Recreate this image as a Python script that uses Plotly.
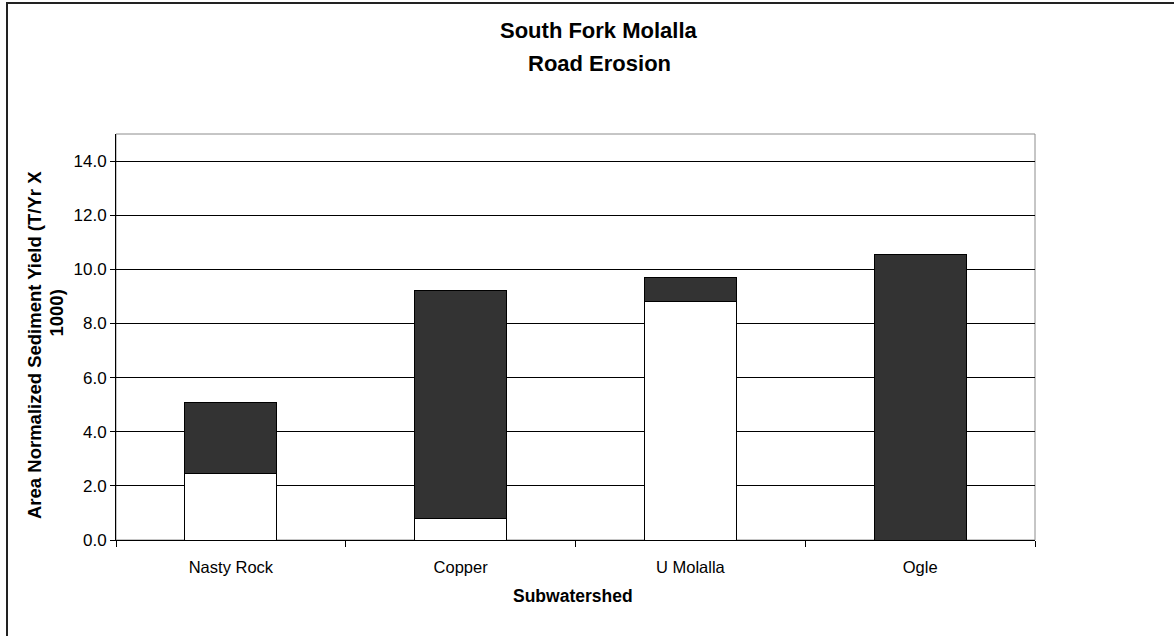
import plotly.graph_objects as go

categories = ["Nasty Rock", "Copper", "U Molalla", "Ogle"]
lower_values = [2.47, 0.78, 8.83, 0.0]
upper_values = [2.61, 8.43, 0.86, 10.54]
y_ticks = [0, 2, 4, 6, 8, 10, 12, 14]
title_lines = ["South Fork Molalla", "Road Erosion"]
y_title_lines = ["Area Normalized Sediment Yield (T/Yr X", "1000)"]
x_title = "Subwatershed"

FONT = "Liberation Sans, Arial, sans-serif"
W, H = 1174, 636
L, R, T, B = 116, 139, 134, 96
pw, ph = W - L - R, H - T - B

def px(x):
    return (x - L) / pw

def py(y):
    return (H - B - y) / ph

fig = go.Figure()
fig.add_trace(go.Bar(x=categories, y=lower_values, name="Series1", width=0.4,
                     marker=dict(color="#ffffff", line=dict(color="#000000", width=1))))
fig.add_trace(go.Bar(x=categories, y=upper_values, name="Series2", width=0.4,
                     marker=dict(color="#333333", line=dict(color="#000000", width=1))))

fig.update_layout(
    width=W, height=H,
    barmode="stack",
    showlegend=False,
    paper_bgcolor="#ffffff",
    plot_bgcolor="#ffffff",
    margin=dict(l=L, r=R, t=T, b=B, pad=0),
    font=dict(family=FONT, size=16, color="#000000"),
)
fig.update_xaxes(
    range=[-0.5, 3.5], showgrid=False, showline=True, linecolor="#000000", linewidth=1,
    ticks="outside", tickson="boundaries", ticklen=6, tickcolor="#000000",
    ticklabelstandoff=12,
    tickfont=dict(family=FONT, size=16.5, color="#000000"), mirror=False,
)
fig.update_yaxes(
    range=[0, 15], tickvals=y_ticks, tickformat=".1f",
    showgrid=True, gridcolor="#000000", gridwidth=1,
    showline=True, linecolor="#000000", linewidth=1,
    ticks="outside", ticklen=5, tickcolor="#000000",
    tickfont=dict(family=FONT, size=17, color="#000000"), zeroline=False,
)

# plot area border (top/right, gray)
fig.add_shape(type="rect", xref="paper", yref="paper", x0=0, x1=1, y0=0, y1=1,
              line=dict(color="#8c8c8c", width=1), layer="below")
# chart-area border (left and top edges visible)
fig.add_shape(type="rect", xref="paper", yref="paper", x0=px(7), x1=px(1300), y0=py(700), y1=py(3),
              line=dict(color="#222222", width=2))

ann = []
ann.append(dict(text="<b>%s</b>" % title_lines[0], x=px(599), y=py(30)))
ann.append(dict(text="<b>%s</b>" % title_lines[1], x=px(599), y=py(63)))
for a in ann:
    a.update(xref="paper", yref="paper", xanchor="center", yanchor="middle", showarrow=False,
             font=dict(family=FONT, size=22, color="#000000"))
ann.append(dict(text="<b>%s</b>" % y_title_lines[0], x=px(34), y=py(345), textangle=-90,
                xref="paper", yref="paper", xanchor="center", yanchor="middle", showarrow=False,
                font=dict(family=FONT, size=18.5, color="#000000")))
ann.append(dict(text="<b>%s</b>" % y_title_lines[1], x=px(55.5), y=py(313), textangle=-90,
                xref="paper", yref="paper", xanchor="center", yanchor="middle", showarrow=False,
                font=dict(family=FONT, size=18.5, color="#000000")))
ann.append(dict(text="<b>%s</b>" % x_title, x=px(573), y=py(595.5),
                xref="paper", yref="paper", xanchor="center", yanchor="middle", showarrow=False,
                font=dict(family=FONT, size=17.5, color="#000000")))
fig.update_layout(annotations=ann)

fig.write_html("out.html")
